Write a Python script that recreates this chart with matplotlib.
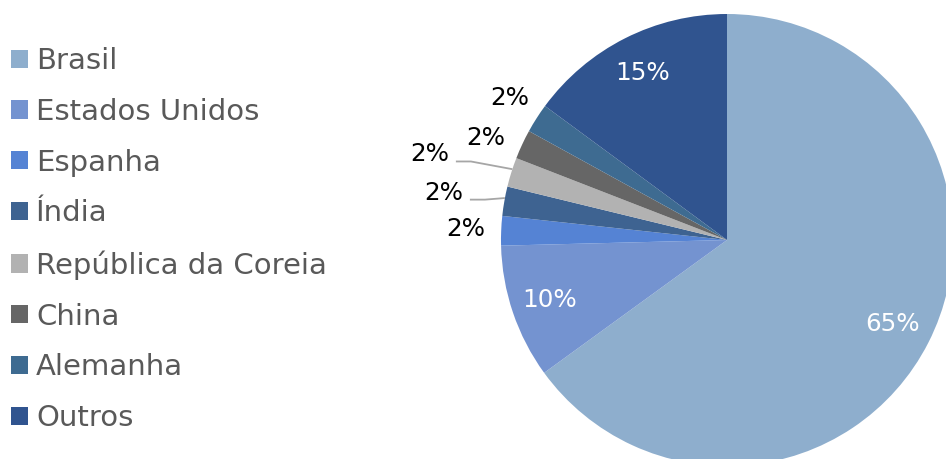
import matplotlib
matplotlib.use('Agg')
import matplotlib.pyplot as plt
import numpy as np

categories = ['Brasil', 'Estados Unidos', 'Espanha', 'Índia',
              'República da Coreia', 'China', 'Alemanha', 'Outros']
shares = [65.0, 9.6, 2.1, 2.1, 2.1, 2.1, 2.1, 14.9]
colors = ['#8EAECD', '#7493D0', '#5583D4', '#3E6391',
          '#B2B2B2', '#666666', '#3E6B91', '#30548F']

# layout: label radial distance (pie radii) and angular shift (deg)
label_r = [0.82, 0.83, 1.156, 1.27, 1.368, 1.158, 1.147, 0.83]
label_shift = [0, 0, 0, 0.4, 1.4, 2.1, -0.6, 0]
leader = [False, False, False, True, True, False, False, False]

plt.rcParams['font.family'] = ['DejaVu Sans']
W, H = 946, 459
fig = plt.figure(figsize=(W / 100, H / 100), dpi=100)
ax = fig.add_axes([0, 0, 1, 1])
R = 226.0
cx, cy = 727.0, 240.0  # px from left / top

wedges, _ = ax.pie(shares, colors=colors, startangle=90, counterclock=False,
                   radius=1, wedgeprops=dict(linewidth=0))
ax.set_aspect('auto')
ax.set_xlim(-cx / R, (W - cx) / R)
ax.set_ylim(-(H - cy) / R, cy / R)
ax.axis('off')

for w, v, r, sh, ld in zip(wedges, shares, label_r, label_shift, leader):
    mid = (w.theta1 + w.theta2) / 2
    th = np.deg2rad(mid + sh)
    x, y = r * np.cos(th), r * np.sin(th)
    inner = r < 1
    ax.text(x, y, f"{round(v)}%", ha='center', va='center',
            fontsize=17.7, color='white' if inner else 'black')
    if ld:
        sx = x + 26 / R
        sy = y - 7 / R
        te = np.deg2rad(mid - 0.8)
        ex, ey = np.cos(te), np.sin(te)
        ax.plot([sx, sx + 15 / R, ex], [sy, sy, ey], color='#A6A6A6', lw=1.3,
                solid_capstyle='butt')

leg = ax.legend(wedges, categories, loc='upper left',
                bbox_to_anchor=(11 / W, 1 - 47 / H), bbox_transform=fig.transFigure,
                frameon=False, fontsize=21, handlelength=0.583, handleheight=0.583,
                handletextpad=0.28, labelspacing=0.782, borderpad=0, borderaxespad=0)
for t in leg.get_texts():
    t.set_color('#595959')

fig.savefig('out.png', dpi=100)
